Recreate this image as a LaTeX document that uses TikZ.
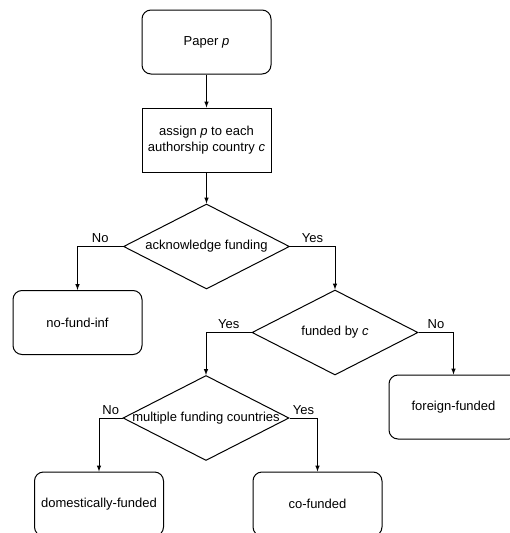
\documentclass[tikz,border=0pt]{standalone}
\usepackage{fontspec}
\setmainfont{Liberation Sans}
\usetikzlibrary{shapes.geometric}
\begin{document}
\begin{tikzpicture}[x=1pt,y=-1pt,line width=1pt,>=latex,font=\fontsize{13}{15.5}\selectfont,
 blk/.style={draw,rounded corners=9pt,minimum width=129pt,minimum height=64pt,align=center},
 dec/.style={draw,diamond,minimum width=166pt,minimum height=85pt,inner sep=0pt},
 lbl/.style={above=2pt,inner sep=1pt}]
\useasboundingbox (0,0) rectangle (509,533);
\node[blk] (P) at (206.5,42) {Paper \textit{p}};
\node[blk,sharp corners] (A) at (206.5,140) {assign \textit{p} to each\\authorship country \textit{c}};
\node[dec] (D1) at (206.5,246.5) {\makebox[0pt]{acknowledge funding}};
\node[dec] (D2) at (335,332.5) {\makebox[0pt]{funded by \textit{c}}};
\node[dec] (D3) at (206,418) {\makebox[0pt]{multiple funding countries}};
\node[blk] (NF) at (77.5,322.5) {no-fund-inf};
\node[blk] (FF) at (453.5,407) {foreign-funded};
\node[blk] (DF) at (99,504) {domestically-funded};
\node[blk] (CF) at (317.5,504) {co-funded};
\draw[->] (P) -- (A);
\draw[->] (A) -- (D1);
\foreach \x/\y/\w in {D1.west/NF/No, D1.east/D2/Yes, D2.west/D3/Yes, D2.east/FF/No, D3.west/DF/No, D3.east/CF/Yes}
 \draw[->] (\x) -| node[lbl,pos=.25]{\w} (\y.north);
\end{tikzpicture}
\end{document}
